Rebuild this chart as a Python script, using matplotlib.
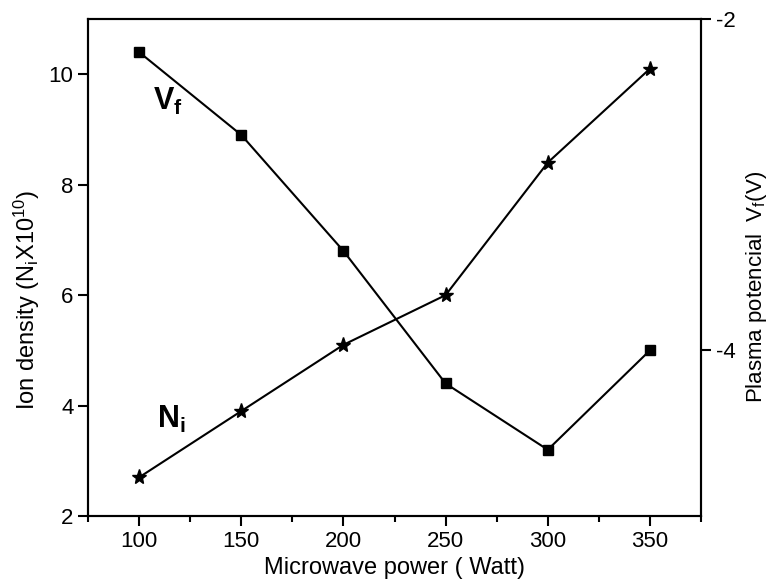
import numpy as np
import matplotlib.pyplot as plt
from matplotlib.ticker import MultipleLocator

plt.rcParams['font.family'] = ['Liberation Sans', 'DejaVu Sans']
plt.rcParams['mathtext.fontset'] = 'custom'
plt.rcParams['mathtext.rm'] = 'Liberation Sans'
plt.rcParams['mathtext.it'] = 'Liberation Sans'
plt.rcParams['mathtext.bf'] = 'Liberation Sans:bold'
plt.rcParams['axes.unicode_minus'] = False

# microwave power (Watt)
power = [100, 150, 200, 250, 300, 350]
# ion density N_i (x10^10), left axis
ion_density = [2.7, 3.9, 5.1, 6.0, 8.4, 10.1]
# plasma potential V_f (V), right axis
plasma_pot = [-2.2, -2.7, -3.4, -4.2, -4.6, -4.0]

fig = plt.figure(figsize=(7.68, 5.84), dpi=100)
ax = fig.add_axes([0.1146, 0.1164, 0.7982, 0.8511])
ax2 = ax.twinx()

ax.plot(power, ion_density, color='black', lw=1.5, marker='*', markersize=11)
ax2.plot(power, plasma_pot, color='black', lw=1.5, marker='s', markersize=7)

ax.set_xlim(75, 375)
ax.set_ylim(2, 11)
ax2.set_ylim(-5, -2)

ax.set_xticks([100, 150, 200, 250, 300, 350])
ax.xaxis.set_minor_locator(MultipleLocator(25))
ax.set_yticks([2, 4, 6, 8, 10])
ax2.set_yticks([-2, -4])

for a in (ax, ax2):
    for s in a.spines.values():
        s.set_linewidth(1.5)
    a.tick_params(which='major', direction='out', length=7, width=1.5, labelsize=16)
    a.tick_params(which='minor', direction='out', length=4, width=1.5)

ax.set_xlabel('Microwave power ( Watt)', fontsize=17, labelpad=4)
ax.set_ylabel(r'Ion density (N$_i$X10$^{10}$)', fontsize=17)
ax2.set_ylabel(r'Plasma potencial  V$_f$(V)', fontsize=16)
# labels sit a bit below the axes centre in the original
ax.yaxis.set_label_coords(-0.075, 0.435)
ax2.yaxis.set_label_coords(1.07, 0.46)

ax.text(114, 9.5, r'$\mathbf{V_f}$', fontsize=22, ha='center', va='center')
ax.text(116, 3.75, r'$\mathbf{N_i}$', fontsize=22, ha='center', va='center')

fig.savefig('out.png', dpi=100)
plt.close(fig)
